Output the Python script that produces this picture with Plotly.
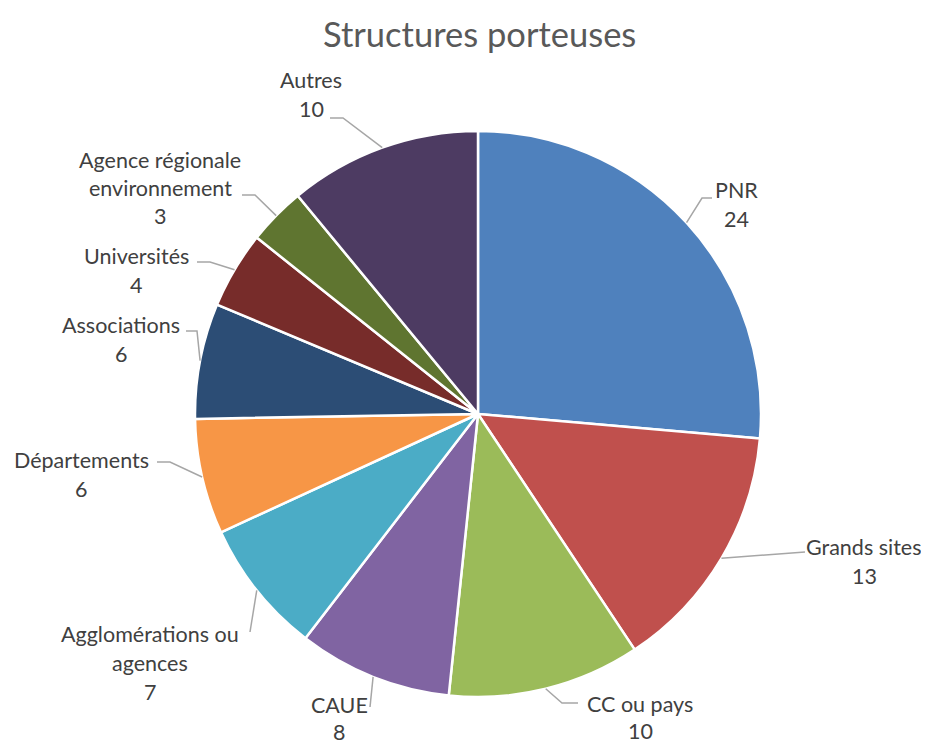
import math
import plotly.graph_objects as go

# ---- data ----
labels = ["PNR", "Grands sites", "CC ou pays", "CAUE", "Agglomérations ou agences",
          "Départements", "Associations", "Universités", "Agence régionale environnement", "Autres"]
values = [24, 13, 10, 8, 7, 6, 6, 4, 3, 10]
label_lines = [["PNR"], ["Grands sites"], ["CC ou pays"], ["CAUE"], ["Agglomérations ou", "agences"],
               ["Départements"], ["Associations"], ["Universités"], ["Agence régionale", "environnement"], ["Autres"]]
colors = ["#4F81BD", "#C0504D", "#9BBB59", "#8064A2", "#4BACC6",
          "#F79646", "#2C4D75", "#772C2A", "#5F7530", "#4D3B62"]

# ---- layout (pixels, page coordinates) ----
PAGE_W, PAGE_H = 929, 746
OFF = 8  # page body margin
W, H = PAGE_W - OFF, PAGE_H - OFF
CX, CY, R = 478, 414, 283
# label block: centre x, y of first line centre
label_pos = [(736, 190), (864, 547), (640, 704), (339, 705), (150, 634),
             (81, 460), (121, 325), (136, 256), (160, 160), (311, 80)]
line_gap = [29, 29, 27, 27, 29, 29, 29, 29, 28, 29]
# leader line elbow + end (pixels)
leader = [[(702, 198), (712, 198)],
          [(805, 552)],
          [(562, 703), (578, 703)],
          [(370, 707)],
          [(250, 632)],
          [(170, 462), (157, 462)],
          [(197, 331), (186, 331)],
          [(210, 262), (197, 262)],
          [(255, 195), (242, 195)],
          [(343, 118), (330, 118)]]

def px(x):
    return (x - OFF) / W

def py(y):
    return 1 - (y - OFF) / H

fig = go.Figure(go.Pie(
    labels=labels, values=values, sort=False, direction="clockwise", rotation=0,
    marker=dict(colors=colors, line=dict(color="white", width=2.5)),
    textinfo="none", hoverinfo="label+value", showlegend=False,
    domain=dict(x=[px(CX - R), px(CX + R)], y=[py(CY + R), py(CY - R)]),
))

total = sum(values)
annotations = []
shapes = []
cum = 0
for i, v in enumerate(values):
    mid = (cum + v / 2) / total * 2 * math.pi
    cum += v
    ex = CX + R * math.sin(mid)
    ey = CY - R * math.cos(mid)
    pts = [(ex, ey)] + leader[i]
    path = "M " + " L ".join(f"{px(x)},{py(y)}" for x, y in pts)
    shapes.append(dict(type="path", path=path, xref="paper", yref="paper",
                       line=dict(color="#A6A6A6", width=1.5)))
    lx, ly = label_pos[i]
    lines = label_lines[i] + [str(v)]
    for j, t in enumerate(lines):
        annotations.append(dict(text=t, x=px(lx), y=py(ly + j * line_gap[i]), xref="paper", yref="paper",
                                showarrow=False, xanchor="center", yanchor="middle",
                                font=dict(family="Lato", size=21.5, color="#404040")))

annotations.append(dict(text="Structures porteuses", x=px(479), y=py(33), xref="paper", yref="paper",
                        showarrow=False, xanchor="center", yanchor="middle",
                        font=dict(family="Lato", size=34.5, color="#595959")))

fig.update_layout(width=W, height=H, margin=dict(l=0, r=0, t=0, b=0),
                  paper_bgcolor="white", plot_bgcolor="white",
                  annotations=annotations, shapes=shapes)
fig.write_html("out.html")
